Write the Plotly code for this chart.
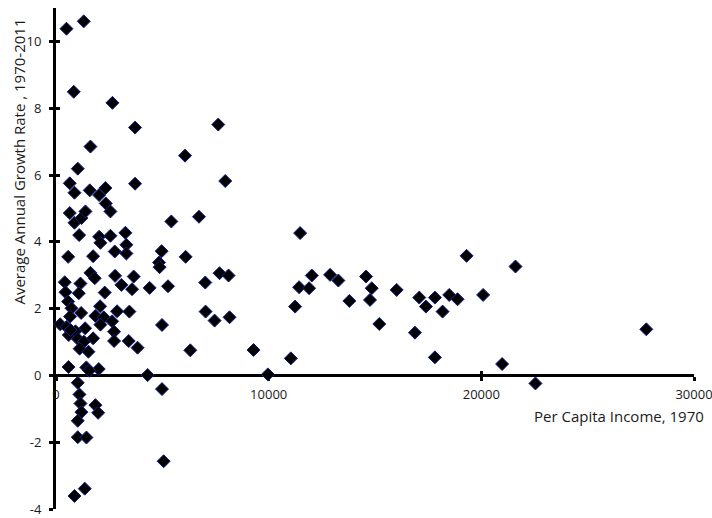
import plotly.graph_objects as go

# Per capita income 1970 (x) and average annual growth rate 1970-2011 (y)
income_1970 = [
    493, 1305, 836, 2653, 3718, 7630, 1620, 1024, 6066, 648,
    3718, 7958, 869, 1587, 2028, 2324, 2338, 2559, 648, 869,
    1197, 1385, 5423, 6723, 1089, 2028, 2089, 2559, 3263, 3310,
    4967, 572, 1745, 2762, 3310, 6096, 4845, 4870, 1620, 1822,
    413, 1150, 446, 1072, 572, 728, 1181, 2291, 2778, 3075,
    3577, 3654, 4404, 5267, 7019, 7690, 8114, 2073, 1850, 2244,
    2089, 2638, 2872, 3451, 7034, 7457, 8160, 4985, 196, 500,
    660, 601, 1370, 915, 681, 1030, 1310, 1110, 1525, 1745,
    2730, 2730, 3418, 3835, 6315, 590, 1425, 2010, 1560, 4310,
    4985, 1024, 1103, 1150, 1197, 1024, 1855, 1981, 1024, 1432,
    5061, 869, 1352, 9287, 9962, 11043, 11245, 11432, 11479, 11902,
    12028, 12888, 13278, 13794, 14578, 14846, 14766, 15203, 16019, 16879,
    17081, 17395, 17817, 17817, 18178, 18490, 18882, 19306, 20085, 21606,
    20977, 22545, 27757,
]
growth_rate = [
    10.38, 10.6, 8.49, 8.16, 7.42, 7.51, 6.85, 6.19, 6.58, 5.75,
    5.74, 5.82, 5.47, 5.54, 5.40, 5.61, 5.15, 4.91, 4.86, 4.57,
    4.71, 4.91, 4.61, 4.75, 4.20, 4.15, 3.97, 4.18, 4.27, 3.91,
    3.72, 3.55, 3.57, 3.71, 3.65, 3.55, 3.38, 3.24, 3.07, 2.91,
    2.79, 2.75, 2.49, 2.46, 2.21, 2.01, 1.87, 2.48, 2.98, 2.71,
    2.58, 2.96, 2.62, 2.67, 2.78, 3.06, 2.99, 2.07, 1.78, 1.74,
    1.52, 1.62, 1.92, 1.91, 1.91, 1.64, 1.74, 1.51, 1.53, 1.45,
    1.76, 1.21, 1.41, 1.32, 1.36, 1.09, 1.01, 0.80, 0.71, 1.11,
    1.31, 1.03, 1.03, 0.83, 0.75, 0.25, 0.24, 0.19, 0.14, 0.01,
    -0.41, -0.22, -0.57, -0.84, -1.10, -1.36, -0.89, -1.12, -1.85, -1.86,
    -2.57, -3.61, -3.39, 0.76, 0.03, 0.51, 2.06, 2.64, 4.26, 2.61,
    2.99, 3.01, 2.84, 2.23, 2.96, 2.61, 2.26, 1.54, 2.56, 1.28,
    2.33, 2.06, 0.54, 2.33, 1.91, 2.41, 2.28, 3.58, 2.41, 3.26,
    0.34, -0.24, 1.38,
]

x_ticks = [0, 10000, 20000, 30000]
x_ticktext = ["0", "10000", "20000", "30000"]
y_ticks = [-4, -2, 0, 2, 4, 6, 8, 10]
y_ticktext = ["-4", "-2", "0", "2", "4", "6", "8", "10"]

x_title = "Per Capita Income, 1970"
y_title = "Average Annual Growth Rate , 1970-2011"

FONT = "Open Sans"
TXT = "#1a1a1a"

fig = go.Figure()
fig.add_trace(go.Scatter(
    x=income_1970, y=growth_rate, mode="markers",
    marker=dict(symbol="diamond", size=10, color="black",
                line=dict(color="rgb(20,30,140)", width=1)),
    cliponaxis=False, showlegend=False, hoverinfo="x+y",
))
# invisible trace so the overlay (inside-tick) axes render
fig.add_trace(go.Scatter(x=[None], y=[None], xaxis="x2", yaxis="y2",
                         showlegend=False, hoverinfo="skip"))

tick_common = dict(showgrid=False, zeroline=False, tickcolor="black", tickwidth=3,
                   ticklen=4, automargin=False, layer="below traces")

fig.update_layout(
    width=712, height=518,
    margin=dict(l=56, r=18, t=8, b=9, autoexpand=False),
    paper_bgcolor="white", plot_bgcolor="white",
    showlegend=False,
    xaxis=dict(range=[0, 30000], tickvals=x_ticks, ticktext=x_ticktext,
               anchor="free", position=4/15, showline=True, linecolor="black",
               linewidth=3, ticks="outside", ticklabelstandoff=2,
               ticklabeloverflow="allow",
               tickfont=dict(family=FONT, size=13, color=TXT), **tick_common),
    xaxis2=dict(range=[0, 30000], tickvals=x_ticks, overlaying="x", matches="x",
                anchor="free", position=4/15, showline=False, ticks="inside",
                showticklabels=False, **tick_common),
    yaxis=dict(range=[-4, 11], tickvals=y_ticks, ticktext=y_ticktext,
               showline=True, linecolor="black", linewidth=3, ticks="outside",
               ticklabelstandoff=5, ticklabeloverflow="allow",
               tickfont=dict(family=FONT, size=13, color=TXT), **tick_common),
    yaxis2=dict(range=[-4, 11], tickvals=y_ticks, overlaying="y", matches="y",
                showline=False, ticks="inside", showticklabels=False, **tick_common),
    annotations=[
        dict(text=y_title, xref="paper", yref="paper", x=-0.0595, y=0.6936,
             textangle=-90, xanchor="center", yanchor="middle", showarrow=False,
             font=dict(family=FONT, size=15, color=TXT)),
        dict(text=x_title, xref="paper", yref="paper", x=0.8824, y=0.186,
             xanchor="center", yanchor="middle", showarrow=False,
             font=dict(family=FONT, size=15, color=TXT)),
    ],
)

fig.write_html("out.html",
               config={"displayModeBar": False},
               post_script="document.body.style.margin='0';"
                           "document.body.style.overflow='hidden';")
